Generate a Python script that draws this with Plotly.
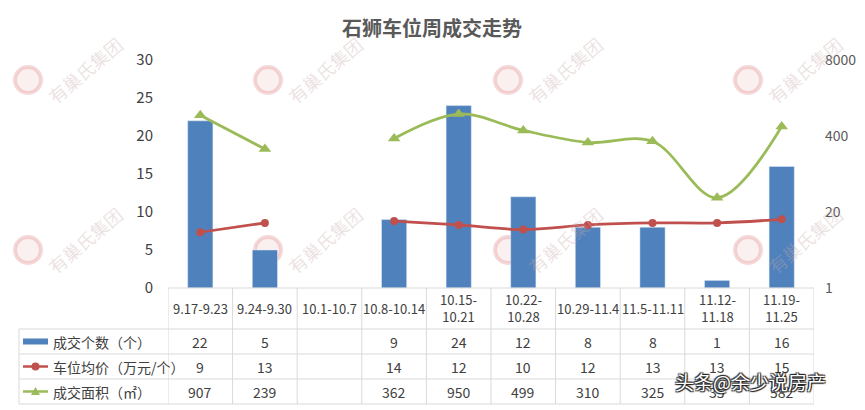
import plotly.graph_objects as go
import math

categories = ["9.17-9.23", "9.24-9.30", "10.1-10.7", "10.8-10.14", "10.15-10.21",
              "10.22-10.28", "10.29-11.4", "11.5-11.11", "11.12-11.18", "11.19-11.25"]
header_labels = ["9.17-9.23", "9.24-9.30", "10.1-10.7", "10.8-10.14", "10.15-<br>10.21",
                 "10.22-<br>10.28", "10.29-11.4", "11.5-11.11", "11.12-<br>11.18", "11.19-<br>11.25"]
count = [22, 5, None, 9, 24, 12, 8, 8, 1, 16]
price = [9, 13, None, 14, 12, 10, 12, 13, 13, 15]
area = [907, 239, None, 362, 950, 499, 310, 325, 35, 582]
series_names = ["成交个数（个）", "车位均价（万元/个）", "成交面积（㎡）"]
left_ticks = [0, 5, 10, 15, 20, 25, 30]
right_ticks = [1, 20, 400, 8000]

BLUE = "#4F81BD"
RED = "#C0504D"
GREEN = "#9BBB59"
GRID = "#D9D9D9"
FONT = "Noto Sans CJK SC"

W, H = 865, 410
L, R, T, B = 168, 814, 60, 288
pw, ph = R - L, B - T

def px(X):
    return (X - L) / pw

def py(Y):
    return (B - Y) / ph

x = list(range(len(categories)))

fig = go.Figure()
fig.add_trace(go.Bar(x=x, y=count, marker_color=BLUE, width=0.39, name=series_names[0],
                     yaxis="y"))
fig.add_trace(go.Scatter(x=x, y=price, mode="lines+markers", yaxis="y2",
                         line=dict(color=RED, width=2.75, shape="spline", smoothing=1),
                         marker=dict(symbol="circle", size=8, color=RED),
                         connectgaps=False, name=series_names[1]))
fig.add_trace(go.Scatter(x=x, y=area, mode="lines+markers", yaxis="y2",
                         line=dict(color=GREEN, width=2.75, shape="spline", smoothing=1),
                         marker=dict(symbol="triangle-up", size=11, color=GREEN),
                         connectgaps=False, name=series_names[2]))

shapes = []
annotations = []

# watermarks (behind everything)
for wy in [70, 240]:
    for wx in [85, 325, 565, 805]:
        annotations.append(dict(x=px(wx), y=py(wy), xref="paper", yref="paper", text="有巢氏集团",
                                showarrow=False, textangle=-40,
                                font=dict(family=FONT, size=18, color="rgba(200,170,170,0.35)"),
                                xanchor="center", yanchor="middle"))
        shapes.append(dict(type="circle", xref="paper", yref="paper",
                           x0=px(wx - 70), x1=px(wx - 44), y0=py(wy + 23), y1=py(wy - 3),
                           fillcolor="rgba(235,170,170,0.18)",
                           line=dict(color="rgba(225,140,140,0.35)", width=4), layer="below"))

# table lines
line = dict(color=GRID, width=1)
shapes.append(dict(type="line", xref="paper", yref="paper", x0=0, x1=1, y0=py(288), y1=py(288), line=line))
for Y in [329, 354, 379, 404]:
    shapes.append(dict(type="line", xref="paper", yref="paper", x0=px(19), x1=1, y0=py(Y), y1=py(Y), line=line))
for i in range(len(categories) + 1):
    shapes.append(dict(type="line", xref="x", yref="paper", x0=i - 0.5, x1=i - 0.5,
                       y0=py(288), y1=py(404), line=line))
shapes.append(dict(type="line", xref="paper", yref="paper", x0=px(19), x1=px(19),
                   y0=py(329), y1=py(404), line=line))

# header labels
for i, lab in enumerate(header_labels):
    annotations.append(dict(x=i, y=py(308), xref="x", yref="paper", text=lab, showarrow=False,
                            font=dict(family=FONT, size=13, color="#404040"),
                            xanchor="center", yanchor="middle"))

rows = [count, price, area]
row_y = [341.5, 366.5, 391.5]
for r, vals in enumerate(rows):
    for i, v in enumerate(vals):
        if v is None:
            continue
        annotations.append(dict(x=i, y=py(row_y[r]), xref="x", yref="paper", text=str(v),
                                showarrow=False, font=dict(family=FONT, size=14, color="#404040"),
                                xanchor="center", yanchor="middle"))
    annotations.append(dict(x=px(51), y=py(row_y[r]), xref="paper", yref="paper",
                            text=series_names[r], showarrow=False,
                            font=dict(family=FONT, size=14, color="#404040"),
                            xanchor="left", yanchor="middle"))

# legend icons
shapes.append(dict(type="rect", xref="paper", yref="paper", x0=px(23), x1=px(48),
                   y0=py(344.5), y1=py(338.5), fillcolor=BLUE, line=dict(width=0)))
shapes.append(dict(type="line", xref="paper", yref="paper", x0=px(23), x1=px(48),
                   y0=py(366.5), y1=py(366.5), line=dict(color=RED, width=2.5)))
shapes.append(dict(type="circle", xref="paper", yref="paper", x0=px(31.5), x1=px(39.5),
                   y0=py(370.5), y1=py(362.5), fillcolor=RED, line=dict(width=0)))
shapes.append(dict(type="line", xref="paper", yref="paper", x0=px(23), x1=px(48),
                   y0=py(391.5), y1=py(391.5), line=dict(color=GREEN, width=2.5)))
shapes.append(dict(type="path", xref="paper", yref="paper",
                   path=f"M {px(31)} {py(395)} L {px(40)} {py(395)} L {px(35.5)} {py(387)} Z",
                   fillcolor=GREEN, line=dict(width=0)))

# title
annotations.append(dict(x=px(432), y=py(27), xref="paper", yref="paper", text="<b>石狮车位周成交走势</b>",
                        showarrow=False, font=dict(family=FONT, size=20, color="#595959"),
                        xanchor="center", yanchor="middle"))

# bottom-right overlay text
annotations.append(dict(x=px(750), y=py(381), xref="paper", yref="paper", text="头条@余少说房产",
                        showarrow=False,
                        font=dict(family=FONT, size=19, color="white",
                                  shadow="1px 1px 1px #222, -1px -1px 1px #222, 1px -1px 1px #222, -1px 1px 1px #222"),
                        xanchor="center", yanchor="middle"))

fig.update_layout(
    width=W, height=H,
    margin=dict(l=L, r=W - R, t=T, b=H - B, autoexpand=False),
    paper_bgcolor="white", plot_bgcolor="white",
    showlegend=False,
    shapes=shapes,
    annotations=annotations,
    xaxis=dict(range=[-0.5, len(categories) - 0.5], showticklabels=False, showgrid=False,
               zeroline=False, showline=False, automargin=False),
    yaxis=dict(range=[0, 30], tickvals=left_ticks, showgrid=False, zeroline=False, showline=False,
               tickfont=dict(family=FONT, size=15, color="#404040"), ticklabelstandoff=14,
               automargin=False),
    yaxis2=dict(type="log", range=[0, math.log10(8000)], tickvals=right_ticks,
                ticktext=[str(t) for t in right_ticks], overlaying="y", side="right",
                showgrid=False, zeroline=False, showline=False,
                tickfont=dict(family=FONT, size=14, color="#595959"), ticklabelstandoff=10,
                automargin=False),
)

fig.write_html("out.html", config={"displayModeBar": False},
               post_script="document.body.style.margin='0';document.body.style.padding='0';")
